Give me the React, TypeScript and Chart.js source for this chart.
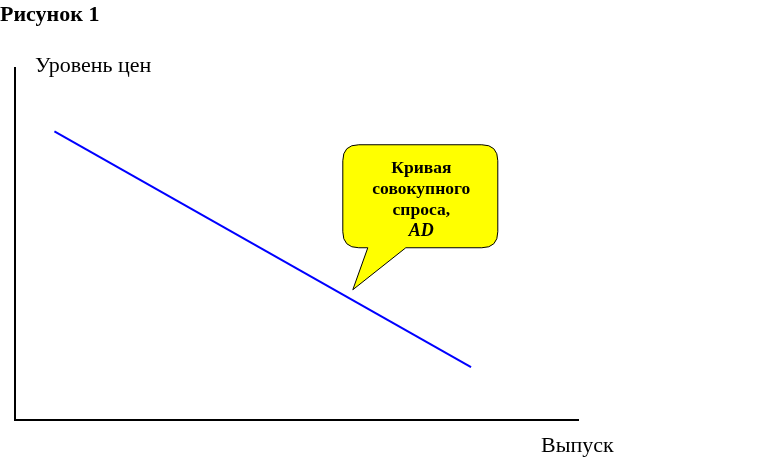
import React, { useEffect, useRef } from "react";
import { Chart, registerables } from "chart.js";

Chart.register(...registerables);

// Aggregate demand curve: two end points (output, price level)
const outputValues = [7, 81];
const priceValues = [82, 15];

// Axis ranges
const outputRange = [0, 100];
const priceRange = [0, 100];

// Texts
const figureTitle = "Рисунок 1";
const priceAxisLabel = "Уровень цен";
const outputAxisLabel = "Выпуск";
const calloutLines = ["Кривая", "совокупного", "спроса,"];
const calloutSymbol = "AD";
// Point on the curve the callout points at
const calloutAnchor = { x: 60, y: 37 };

const SERIF = '"Liberation Serif", "Times New Roman", serif';

const annotationPlugin = {
  id: "adAnnotations",
  afterDraw(chart: any) {
    const { ctx, scales } = chart;
    const xs = scales.x;
    const ys = scales.y;
    ctx.save();

    // Title and axis labels
    ctx.fillStyle = "#000";
    ctx.textBaseline = "alphabetic";
    ctx.textAlign = "left";
    ctx.font = `bold 22px ${SERIF}`;
    ctx.fillText(figureTitle, 0, 21);
    ctx.font = `22px ${SERIF}`;
    ctx.fillText(priceAxisLabel, 35, 72);
    ctx.fillText(outputAxisLabel, 541, 452);

    // Speech-bubble callout
    const tx = xs.getPixelForValue(calloutAnchor.x);
    const ty = ys.getPixelForValue(calloutAnchor.y);
    const left = tx - 10;
    const right = tx + 145;
    const top = ty - 145;
    const bottom = ty - 42;
    const r = 16;
    const b1 = tx + 15;
    const b2 = tx + 53;

    ctx.beginPath();
    ctx.moveTo(left + r, top);
    ctx.lineTo(right - r, top);
    ctx.quadraticCurveTo(right, top, right, top + r);
    ctx.lineTo(right, bottom - r);
    ctx.quadraticCurveTo(right, bottom, right - r, bottom);
    ctx.lineTo(b2, bottom);
    ctx.lineTo(tx, ty);
    ctx.lineTo(b1, bottom);
    ctx.lineTo(left + r, bottom);
    ctx.quadraticCurveTo(left, bottom, left, bottom - r);
    ctx.lineTo(left, top + r);
    ctx.quadraticCurveTo(left, top, left + r, top);
    ctx.closePath();
    ctx.fillStyle = "#FFFF00";
    ctx.fill();
    ctx.lineWidth = 1;
    ctx.strokeStyle = "#000";
    ctx.stroke();

    const cx = (left + right) / 2 + 1;
    ctx.fillStyle = "#000";
    ctx.textAlign = "center";
    ctx.font = `bold 17.5px ${SERIF}`;
    calloutLines.forEach((line, i) => {
      ctx.fillText(line, cx, top + 28 + i * 21);
    });
    ctx.font = `italic bold 18px ${SERIF}`;
    ctx.fillText(calloutSymbol, cx, top + 28 + calloutLines.length * 21);

    ctx.restore();
  },
};

export default function App() {
  const canvasRef = useRef<HTMLCanvasElement | null>(null);

  useEffect(() => {
    const canvas = canvasRef.current;
    if (!canvas) return;
    const chart = new Chart(canvas, {
      type: "scatter",
      data: {
        datasets: [
          {
            data: outputValues.map((x, i) => ({ x, y: priceValues[i] })),
            showLine: true,
            borderColor: "#0000FF",
            borderWidth: 2,
            pointRadius: 0,
            fill: false,
          },
        ],
      },
      options: {
        animation: false,
        responsive: false,
        events: [],
        layout: { padding: { left: 15, top: 68, right: 181, bottom: 40 } },
        plugins: {
          legend: { display: false },
          tooltip: { enabled: false },
          title: { display: false },
        },
        scales: {
          x: {
            type: "linear",
            min: outputRange[0],
            max: outputRange[1],
            grid: { display: false, drawTicks: false },
            ticks: { display: false },
            border: { display: true, color: "#000", width: 2 },
          },
          y: {
            type: "linear",
            min: priceRange[0],
            max: priceRange[1],
            grid: { display: false, drawTicks: false },
            ticks: { display: false },
            border: { display: true, color: "#000", width: 2 },
          },
        },
      },
      plugins: [annotationPlugin],
    });
    return () => chart.destroy();
  }, []);

  return (
    <div style={{ position: "fixed", left: 0, top: 0, width: 759, height: 460, background: "#fff" }}>
      <canvas ref={canvasRef} width={759} height={460} style={{ display: "block" }} />
    </div>
  );
}
